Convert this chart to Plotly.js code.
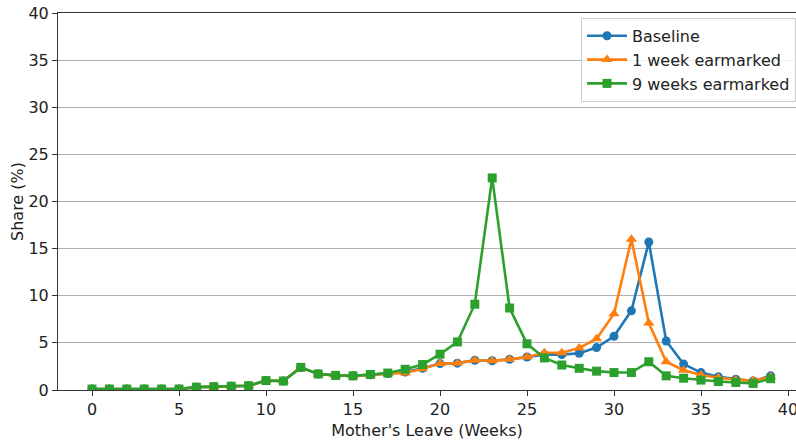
<!DOCTYPE html>
<html><head><meta charset="utf-8">
<script src="https://cdn.plot.ly/plotly-3.0.1.min.js"></script>
<style>html,body{margin:0;padding:0;overflow:hidden;background:#fff}#chart{width:796px;height:443px}</style>
</head><body><div id="chart"></div>
<script>
const weeks = [0,1,2,3,4,5,6,7,8,9,10,11,12,13,14,15,16,17,18,19,20,21,22,23,24,25,26,27,28,29,30,31,32,33,34,35,36,37,38,39];
const baseline = [0.1,0.1,0.1,0.1,0.1,0.1,0.3,0.35,0.4,0.45,1.0,0.95,2.4,1.7,1.55,1.5,1.6,1.75,1.9,2.3,2.8,2.85,3.15,3.1,3.25,3.5,3.75,3.75,3.9,4.5,5.7,8.4,15.7,5.2,2.75,1.85,1.4,1.15,0.95,1.5];
const week1 = [0.1,0.1,0.1,0.1,0.1,0.1,0.3,0.35,0.4,0.45,1.0,0.95,2.4,1.7,1.55,1.5,1.6,1.75,1.8,2.25,2.8,2.85,3.15,3.1,3.25,3.5,3.95,3.95,4.45,5.45,8.1,16.0,7.1,3.0,2.1,1.6,1.3,1.1,1.0,1.4];
const week9 = [0.1,0.1,0.1,0.1,0.1,0.1,0.3,0.35,0.4,0.45,1.0,0.95,2.4,1.7,1.55,1.5,1.65,1.8,2.2,2.7,3.8,5.1,9.1,22.5,8.7,4.9,3.4,2.65,2.3,2.0,1.85,1.85,3.0,1.5,1.25,1.05,0.9,0.8,0.7,1.2];
const names = ['Baseline','1 week earmarked','9 weeks earmarked'];
const colors = ['#1f77b4','#ff7f0e','#2ca02c'];
const symbols = ['circle','triangle-up','square'];
const series = [baseline, week1, week9];
const traces = series.map((s,i)=>({
  x: weeks, y: s, name: names[i], type:'scatter', mode:'lines+markers',
  line:{color:colors[i], width:2.6},
  marker:{color:colors[i], symbol:symbols[i], size: i===1?10:9}
}));
const font = {family:'DejaVu Sans, sans-serif', size:16, color:'#222'};
const layout = {
  width:796, height:443,
  margin:{l:58, r:0, t:13, b:53, pad:0},
  paper_bgcolor:'#fff', plot_bgcolor:'#fff',
  font: font,
  showlegend:true,
  xaxis:{range:[-1.954,40.46], tickvals:[0,5,10,15,20,25,30,35,40], ticks:'outside', ticklen:5, tickcolor:'#333',
    showline:true, linecolor:'#333', linewidth:1, mirror:true, showgrid:false, zeroline:false, ticklabeloverflow:'allow',
    title:{text:"Mother's Leave (Weeks)", font:font, standoff:6}, tickfont:font},
  yaxis:{range:[0,40], tickvals:[0,5,10,15,20,25,30,35,40], ticks:'outside', ticklen:5, tickcolor:'#333',
    showline:true, linecolor:'#333', linewidth:1, showgrid:true, gridcolor:'#b0b0b0', gridwidth:1, zeroline:false,
    title:{text:'Share (%)', font:font, standoff:0}, tickfont:font},
  legend:{x:0.709, y:0.987, xanchor:'left', yanchor:'top', bgcolor:'rgba(255,255,255,0.8)', bordercolor:'#cccccc', borderwidth:1,
    font:font, itemwidth:40, tracegroupgap:0}
};
Plotly.newPlot('chart', traces, layout, {displayModeBar:false, staticPlot:true});
</script></body></html>
